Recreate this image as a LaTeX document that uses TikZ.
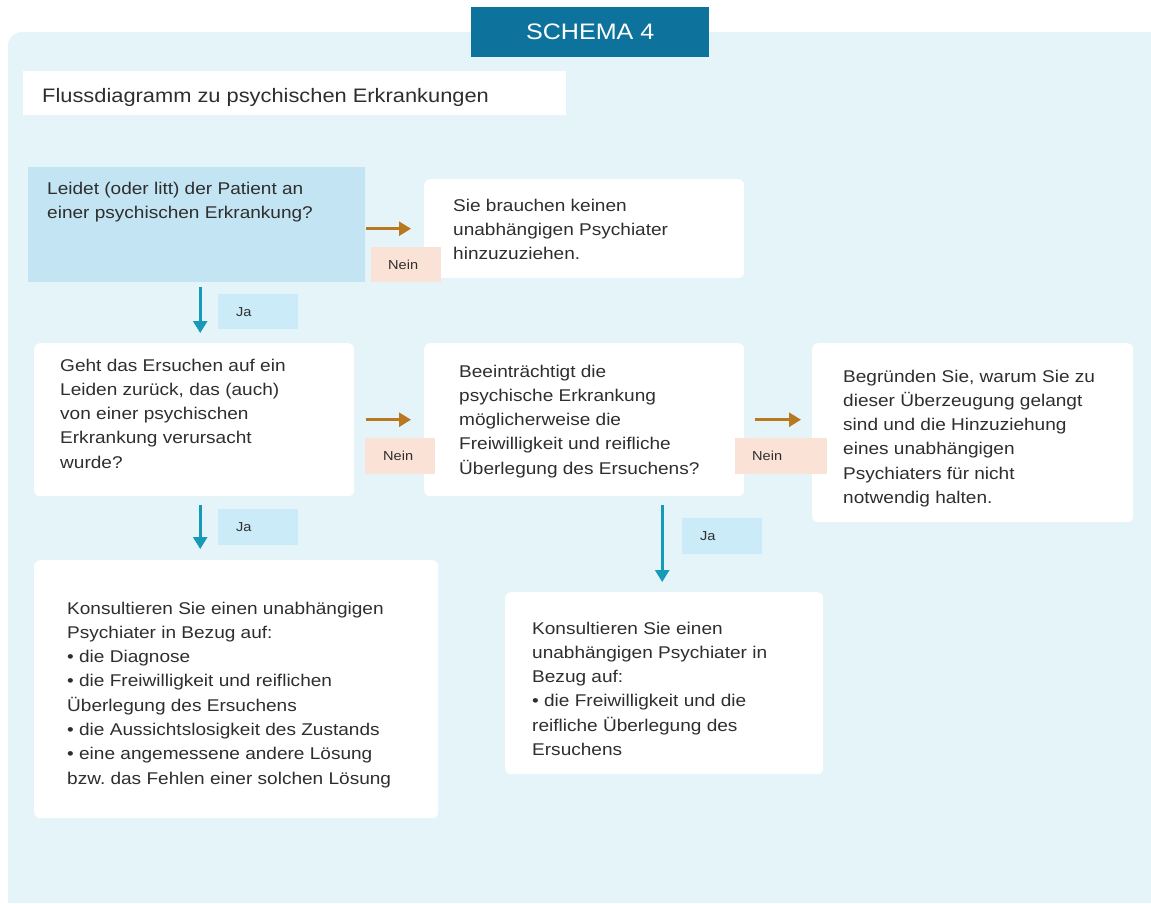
\documentclass[tikz,border=0pt]{standalone}
\usepackage{fontspec}
\setmainfont[FakeStretch=1.12]{Liberation Sans}
\usetikzlibrary{arrows.meta}
\frenchspacing
\definecolor{panel}{HTML}{E4F4F8}
\definecolor{titlebg}{HTML}{0E739C}
\definecolor{qbox}{HTML}{C3E4F3}
\definecolor{jafill}{HTML}{CCEBF9}
\definecolor{neinfill}{HTML}{FBE2D6}
\definecolor{orangearrow}{HTML}{B87820}
\definecolor{tealarrow}{HTML}{169AB8}
\definecolor{txt}{HTML}{2E2E2E}
\tikzset{
  box/.style={draw=none, fill=white, rounded corners=6pt, anchor=north west, inner sep=0pt},
  body/.style={anchor=base west, align=left, inner sep=0pt, text=txt, font=\fontsize{17}{24.3}\selectfont},
  tag/.style={anchor=north west, inner sep=0pt, draw=none},
  tagtext/.style={anchor=west, inner sep=0pt, text=txt, font=\fontsize{13}{14}\selectfont},
  noarrow/.style={draw=orangearrow, line width=2.6pt, -{Triangle[length=12pt,width=14pt]}},
  yesarrow/.style={draw=tealarrow, line width=2.6pt, -{Triangle[length=12pt,width=14pt]}},
}
\begin{document}
\begin{tikzpicture}[x=1pt,y=-1pt]
\useasboundingbox (0,0) rectangle (1151,903);
\fill[white] (0,0) rectangle (1151,903);
% panel
\fill[panel] (8,903) [rounded corners=14pt] -- (8,32) [sharp corners] -- (1151,32) -- (1151,903) -- cycle;
% title
\node[fill=titlebg, anchor=north west, minimum width=238pt, minimum height=50pt, inner sep=0pt,
      text=white, font=\fontsize{22.4}{26}\selectfont] (title) at (471,7) {SCHEMA 4};
% subtitle
\node[fill=white, anchor=north west, minimum width=543pt, minimum height=44pt, inner sep=0pt] (subbox) at (23,71) {};
\node[anchor=base west, inner sep=0pt, text=txt, font=\fontsize{19.5}{23}\selectfont] (subtxt) at (42,102) {Flussdiagramm zu psychischen Erkrankungen};

% boxes (text nodes anchored at the baseline of their last line)
\node[box, fill=qbox, rounded corners=0pt, minimum width=337pt, minimum height=115pt] (b1) at (28,167) {};
\node[body] (t1) at (47,218.3) {Leidet (oder litt) der Patient an\\einer psychischen Erkrankung?};

\node[box, minimum width=320pt, minimum height=99pt] (b2) at (424,179) {};
\node[body] (t2) at (453,259.6) {Sie brauchen keinen\\unabhängigen Psychiater\\hinzuzuziehen.};

\node[box, minimum width=320pt, minimum height=153pt] (b3) at (34,343) {};
\node[body] (t3) at (60,468.2) {Geht das Ersuchen auf ein\\Leiden zurück, das (auch)\\von einer psychischen\\Erkrankung verursacht\\wurde?};

\node[box, minimum width=320pt, minimum height=153pt] (b4) at (424,343) {};
\node[body] (t4) at (459,474.2) {Beeinträchtigt die\\psychische Erkrankung\\möglicherweise die\\Freiwilligkeit und reifliche\\Überlegung des Ersuchens?};

\node[box, minimum width=321pt, minimum height=179pt] (b5) at (812,343) {};
\node[body] (t5) at (843,503.5) {Begründen Sie, warum Sie zu\\dieser Überzeugung gelangt\\sind und die Hinzuziehung\\eines unabhängigen\\Psychiaters für nicht\\notwendig halten.};

\node[box, minimum width=404pt, minimum height=258pt] (b6) at (34,560) {};
\node[body] (t6) at (67,784.1) {Konsultieren Sie einen unabhängigen\\Psychiater in Bezug auf:\\• die Diagnose\\• die Freiwilligkeit und reiflichen\\Überlegung des Ersuchens\\• die Aussichtslosigkeit des Zustands\\• eine angemessene andere Lösung\\bzw. das Fehlen einer solchen Lösung};

\node[box, minimum width=318pt, minimum height=182pt] (b7) at (505,592) {};
\node[body] (t7) at (532,755.5) {Konsultieren Sie einen\\unabhängigen Psychiater in\\Bezug auf:\\• die Freiwilligkeit und die\\reifliche Überlegung des\\Ersuchens};

% tags
\node[tag, fill=neinfill, minimum width=70pt, minimum height=35pt] (n1) at (371,247) {};
\node[tagtext] (n1t) at ([xshift=17pt]n1.west) {Nein};
\node[tag, fill=neinfill, minimum width=70pt, minimum height=36pt] (n2) at (365,438) {};
\node[tagtext] (n2t) at ([xshift=18pt]n2.west) {Nein};
\node[tag, fill=neinfill, minimum width=92pt, minimum height=36pt] (n3) at (735,438) {};
\node[tagtext] (n3t) at ([xshift=17pt]n3.west) {Nein};

\node[tag, fill=jafill, minimum width=80pt, minimum height=35pt] (j1) at (218,294) {};
\node[tagtext] (j1t) at ([xshift=18pt]j1.west) {Ja};
\node[tag, fill=jafill, minimum width=80pt, minimum height=36pt] (j2) at (218,509) {};
\node[tagtext] (j2t) at ([xshift=18pt]j2.west) {Ja};
\node[tag, fill=jafill, minimum width=80pt, minimum height=36pt] (j3) at (682,518) {};
\node[tagtext] (j3t) at ([xshift=18pt]j3.west) {Ja};

% arrows
\draw[noarrow, shorten <=1pt, shorten >=13pt] (b1.east |- b2.west) -- (b2.west);
\draw[noarrow, shorten <=12pt, shorten >=13pt] (b3.east) -- (b4.west);
\draw[noarrow, shorten <=11pt, shorten >=11pt] (b4.east) -- (b4.east -| b5.west);

\draw[yesarrow, shorten <=5pt, shorten >=10pt] ([xshift=3.5pt]b1.south) -- ([xshift=3.5pt]b1.south |- b3.north);
\draw[yesarrow, shorten <=9pt, shorten >=11pt] ([xshift=6pt]b3.south) -- ([xshift=6pt]b3.south |- b6.north);
\draw[yesarrow, shorten <=9pt, shorten >=10pt] ([xshift=-2pt]b7.north |- b4.south) -- ([xshift=-2pt]b7.north);
\end{tikzpicture}
\end{document}
